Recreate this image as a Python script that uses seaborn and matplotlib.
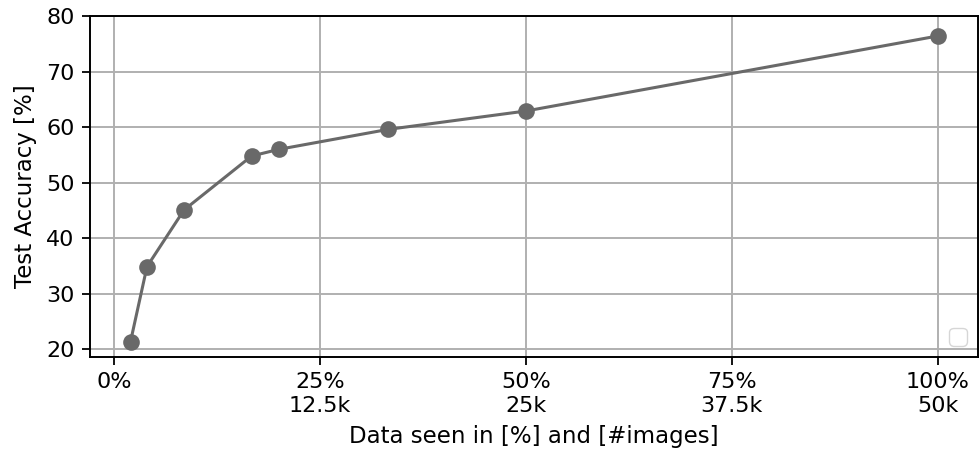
import numpy as np
import pandas as pd
from matplotlib import pyplot as plt
import seaborn as sns

# fraction of training data seen (%) and resulting test accuracy (%)
data_pct = [2, 4, 8.5, 16.7, 20, 33.3, 50, 100]
accuracy = [21.4, 34.9, 45.1, 54.8, 56.0, 59.6, 62.9, 76.4]

tick_pos = [0, 25, 50, 75, 100]
tick_labels = ["0%", "25%\n12.5k", "50%\n25k", "75%\n37.5k", "100%\n50k"]


def plot(df, outf):
    sns.set_style("ticks", {"axes.edgecolor": "black", "grid.color": "#b0b0b0",
                            "xtick.color": "black", "ytick.color": "black",
                            "axes.labelcolor": "black", "text.color": "black"})
    plt.rcParams["font.size"] = 16
    plt.rcParams["font.family"] = ["DejaVu Sans"]

    fig, ax = plt.subplots(figsize=(9.8, 4.57), dpi=100)
    sns.lineplot(data=df, x="Data", y="Accuracy", ax=ax,
                 color="dimgray", marker="o", markersize=12,
                 markeredgewidth=0, linewidth=2.2)

    ax.set_ylim(top=80)
    ax.set_xticks(tick_pos)
    ax.set_xticklabels(tick_labels, fontsize=16, linespacing=1.2)
    ax.tick_params(axis="both", labelsize=16, length=5.6, width=1.3, pad=5.6)
    ax.grid(True, linewidth=1.4)
    ax.set_xlabel("Data seen in [%] and [#images]", fontsize=16.5, labelpad=6.4)
    ax.set_ylabel("Test Accuracy [%]", fontsize=16.5, labelpad=6.4)
    for s in ax.spines.values():
        s.set_linewidth(1.4)

    # empty legend box, as in the original
    ax.legend(handles=[], loc="lower right", fontsize=16)

    fig.subplots_adjust(left=0.092, right=0.998, top=0.965, bottom=0.219)
    plt.savefig(outf, dpi=100)


if __name__ == "__main__":
    df = pd.DataFrame({"Data": np.array(data_pct), "Accuracy": np.array(accuracy)})
    plot(df, "out.png")
